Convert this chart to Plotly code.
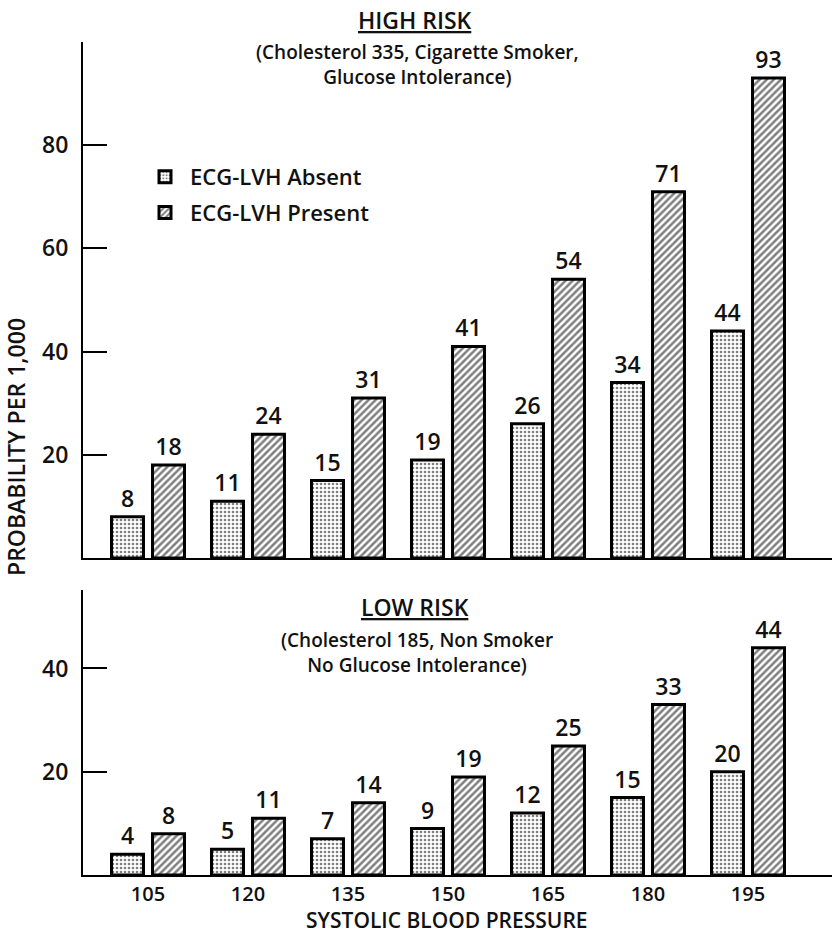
import plotly.graph_objects as go

categories = ["105", "120", "135", "150", "165", "180", "195"]
high_absent = [8, 11, 15, 19, 26, 34, 44]
high_present = [18, 24, 31, 41, 54, 71, 93]
low_absent = [4, 5, 7, 9, 12, 15, 20]
low_present = [8, 11, 14, 19, 25, 33, 44]
series_names = ["ECG-LVH Absent", "ECG-LVH Present"]
y_ticks_high = [20, 40, 60, 80]
y_ticks_low = [20, 40]

FONT = "Open Sans"
INK = "#111111"
SUB = dict(family=FONT, size=19, color=INK, weight=600)
CAPS = dict(family=FONT, size=23, color=INK, weight=600)
XTITLE = dict(family=FONT, size=21, color=INK, weight=600)
LEG = dict(family=FONT, size=22, color=INK, weight=600)
TICK = dict(family=FONT, size=23, color=INK, weight=600)
XTICK = dict(family=FONT, size=20, color=INK, weight=600)

dot_pat = dict(shape=".", fgcolor="black", bgcolor="white", size=4, solidity=0.35)
hatch_pat = dict(shape="/", fgcolor="black", bgcolor="white", size=5, solidity=0.5)

fig = go.Figure()

def add_pair(absent, present, xa, ya, show):
    fig.add_trace(go.Bar(
        x=categories, y=absent, name=series_names[0], xaxis=xa, yaxis=ya,
        marker=dict(color="white", pattern=dot_pat, line=dict(color="black", width=3)),
        text=[str(v) for v in absent], textposition="outside", textfont=TICK,
        constraintext="none", cliponaxis=False, showlegend=show, legendgroup="a"))
    fig.add_trace(go.Bar(
        x=categories, y=present, name=series_names[1], xaxis=xa, yaxis=ya,
        marker=dict(color="white", pattern=hatch_pat, line=dict(color="black", width=3)),
        text=[str(v) for v in present], textposition="outside", textfont=TICK,
        constraintext="none", cliponaxis=False, showlegend=show, legendgroup="p"))

add_pair(high_absent, high_present, "x", "y", True)
add_pair(low_absent, low_present, "x2", "y2", False)

W, H = 832, 936
ml, mr, mt, mb = 83, 0, 42, 61
ph = H - mt - mb
pw = W - ml - mr

def py(px):
    return (H - mb - px) / ph

def pxx(px):
    return (px - ml) / pw

axis_common = dict(showline=True, linecolor="black", linewidth=2, showgrid=False,
                   zeroline=False, mirror=False)

fig.update_layout(
    width=W, height=H,
    margin=dict(l=ml, r=mr, t=mt, b=mb),
    paper_bgcolor="white", plot_bgcolor="white",
    barmode="group", bargap=0.18, bargroupgap=0.22,
    font=SUB,
    xaxis=dict(domain=[0, 1], anchor="y", range=[-0.65, 6.84], showticklabels=False,
               ticks="", **axis_common),
    yaxis=dict(domain=[py(558), 1], anchor="x", range=[0, 100], tickvals=y_ticks_high,
               ticks="inside", ticklen=24, tickwidth=1.5, tickcolor="black",
               ticklabelstandoff=8, tickfont=TICK, **axis_common),
    xaxis2=dict(domain=[0, 1], anchor="y2", range=[-0.65, 6.84], ticks="",
                ticklabelstandoff=0, tickfont=XTICK, **axis_common),
    yaxis2=dict(domain=[0, py(590)], anchor="x2", range=[0, 55.2], tickvals=y_ticks_low,
                ticks="inside", ticklen=24, tickwidth=1.5, tickcolor="black",
                ticklabelstandoff=8, tickfont=TICK, **axis_common),
    legend=dict(x=pxx(140), y=py(156), xanchor="left", yanchor="top",
                font=LEG, bgcolor="rgba(0,0,0,0)", tracegroupgap=4, itemwidth=40),
)

def ann(text, x, y, font, **kw):
    fig.add_annotation(text=text, x=pxx(x), y=py(y), xref="paper", yref="paper",
                       xanchor="center", yanchor="middle",
                       showarrow=False, font=font, **kw)

ann("<u>HIGH RISK</u>", 415, 20, CAPS)
ann("(Cholesterol 335, Cigarette Smoker,<br>Glucose Intolerance)", 417, 65, SUB)
ann("<u>LOW RISK</u>", 415, 607, CAPS)
ann("(Cholesterol 185, Non Smoker<br>No Glucose Intolerance)", 417, 652, SUB)
ann("SYSTOLIC BLOOD PRESSURE", 447, 920, XTITLE)
ann("PROBABILITY PER 1,000", 16, 447, CAPS, textangle=-90)

fig.write_html("out.html")
